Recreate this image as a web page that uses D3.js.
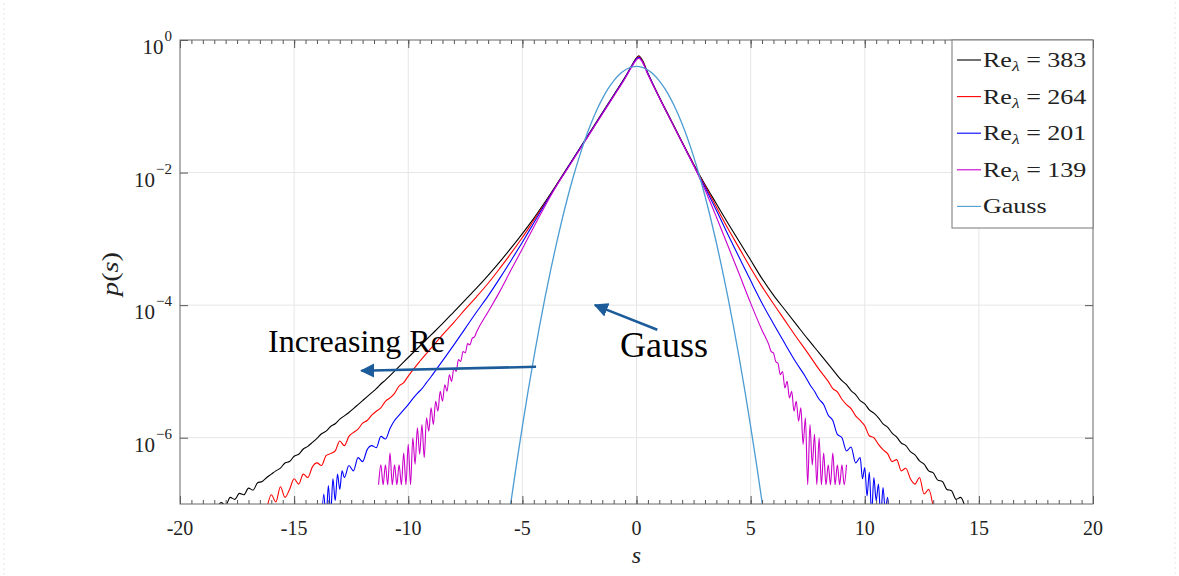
<!DOCTYPE html>
<html><head><meta charset="utf-8">
<script src="https://cdn.jsdelivr.net/npm/d3@7"></script>
<style>body{margin:0;background:#fff}svg{display:block}</style>
</head><body>
<svg id="chart" width="1179" height="576"></svg>
<script>
// ---------- data (s, log10 p(s)) ----------
const xTicks = [-20,-15,-10,-5,0,5,10,15,20];
const yTickExps = [0,-2,-4,-6];
const seriesNames = ["383","264","201","139","Gauss"];
const seriesColors = ["#000000","#ff0000","#0000ff","#cc00cc","#4b9cd3"];

const re383 = [[-18.4,-7.08],[-18.2,-6.98],[-18.0,-7.02],[-17.8,-6.9],[-17.6,-6.93],[-17.4,-6.84],[-17.2,-6.86],[-17.0,-6.76],[-16.8,-6.79],[-16.6,-6.68],[-16.4,-6.66],[-16.2,-6.6],[-16.0,-6.55],[-15.8,-6.5],[-15.6,-6.46],[-15.4,-6.38],[-15.2,-6.36],[-15.0,-6.28],[-14.8,-6.25],[-14.6,-6.17],[-14.4,-6.13],[-14.2,-6.07],[-14.0,-6.01],[-13.8,-5.94],[-13.6,-5.9],[-13.4,-5.83],[-13.2,-5.79],[-13.0,-5.72],[-12.8,-5.67],[-12.6,-5.62],[-12.4,-5.56],[-12.2,-5.5],[-12.0,-5.44],[-11.8,-5.38],[-11.6,-5.32],[-11.4,-5.26],[-11.2,-5.19],[-11.0,-5.13],[-10.5,-4.96],[-10.0,-4.79],[-9.5,-4.62],[-9.0,-4.45],[-8.5,-4.28],[-8.0,-4.1],[-7.5,-3.92],[-7.0,-3.74],[-6.5,-3.55],[-6.0,-3.35],[-5.5,-3.14],[-5.0,-2.92],[-4.5,-2.69],[-4.0,-2.44],[-3.5,-2.18],[-3.0,-1.91],[-2.5,-1.64],[-2.0,-1.37],[-1.5,-1.1],[-1.0,-0.83],[-0.5,-0.56],[-0.25,-0.41],[0,-0.27],[0.1,-0.24],[0.25,-0.3],[0.5,-0.5],[1.0,-0.86],[1.5,-1.2],[2.0,-1.54],[2.5,-1.87],[3.0,-2.18],[3.5,-2.47],[4.0,-2.76],[4.5,-3.04],[5.0,-3.32],[5.5,-3.6],[6.0,-3.85],[6.5,-4.07],[7.0,-4.29],[7.5,-4.51],[8.0,-4.72],[8.5,-4.93],[9.0,-5.14],[9.2,-5.2],[9.4,-5.29],[9.6,-5.35],[9.8,-5.44],[10.0,-5.49],[10.2,-5.58],[10.4,-5.63],[10.6,-5.7],[10.8,-5.79],[11.0,-5.84],[11.2,-5.93],[11.4,-5.99],[11.6,-6.08],[11.8,-6.12],[12.0,-6.21],[12.2,-6.26],[12.4,-6.35],[12.6,-6.4],[12.8,-6.5],[13.0,-6.53],[13.2,-6.64],[13.4,-6.66],[13.6,-6.78],[13.8,-6.8],[14.0,-6.93],[14.2,-6.9],[14.4,-7.05]];

const re264 = [[-16.2,-7.08],[-16.0,-6.86],[-15.8,-6.97],[-15.6,-6.74],[-15.4,-6.9],[-15.2,-6.78],[-15.0,-6.62],[-14.8,-6.7],[-14.6,-6.55],[-14.4,-6.6],[-14.2,-6.44],[-14.0,-6.38],[-13.8,-6.42],[-13.6,-6.27],[-13.4,-6.24],[-13.2,-6.2],[-13.0,-6.05],[-12.8,-6.12],[-12.6,-5.98],[-12.4,-5.92],[-12.2,-5.87],[-12.0,-5.78],[-11.8,-5.74],[-11.6,-5.66],[-11.4,-5.6],[-11.2,-5.55],[-11.0,-5.45],[-10.8,-5.4],[-10.6,-5.33],[-10.4,-5.22],[-10.2,-5.17],[-10.0,-5.07],[-9.5,-4.85],[-9.0,-4.65],[-8.5,-4.45],[-8.0,-4.26],[-7.5,-4.06],[-7.0,-3.87],[-6.5,-3.67],[-6.0,-3.45],[-5.5,-3.22],[-5.0,-2.98],[-4.5,-2.72],[-4.0,-2.46],[-3.5,-2.19],[-3.0,-1.92],[-2.5,-1.65],[-2.0,-1.38],[-1.5,-1.11],[-1.0,-0.84],[-0.5,-0.57],[-0.25,-0.42],[0,-0.28],[0.1,-0.25],[0.25,-0.31],[0.5,-0.51],[1.0,-0.87],[1.5,-1.21],[2.0,-1.55],[2.5,-1.88],[3.0,-2.2],[3.5,-2.52],[4.0,-2.84],[4.5,-3.14],[5.0,-3.44],[5.5,-3.72],[6.0,-3.98],[6.5,-4.23],[7.0,-4.48],[7.5,-4.72],[8.0,-4.97],[8.2,-5.06],[8.4,-5.15],[8.6,-5.26],[8.8,-5.31],[9.0,-5.42],[9.2,-5.5],[9.4,-5.56],[9.6,-5.67],[9.8,-5.74],[10.0,-5.82],[10.2,-5.97],[10.4,-6.0],[10.6,-6.1],[10.8,-6.18],[11.0,-6.24],[11.2,-6.36],[11.4,-6.33],[11.6,-6.5],[11.8,-6.46],[12.0,-6.62],[12.2,-6.7],[12.4,-6.6],[12.6,-6.85],[12.8,-6.78],[13.0,-7.05]];

const re201 = [[-13.8,-7.3],[-13.7,-6.85],[-13.6,-7.25],[-13.5,-6.72],[-13.4,-7.15],[-13.3,-6.62],[-13.2,-6.95],[-13.1,-6.55],[-13.0,-6.78],[-12.9,-6.5],[-12.8,-6.6],[-12.6,-6.42],[-12.4,-6.5],[-12.2,-6.3],[-12.0,-6.36],[-11.8,-6.18],[-11.6,-6.12],[-11.4,-6.15],[-11.2,-5.98],[-11.0,-6.02],[-10.8,-5.86],[-10.6,-5.74],[-10.4,-5.66],[-10.2,-5.58],[-10.0,-5.5],[-9.8,-5.41],[-9.6,-5.33],[-9.4,-5.26],[-9.2,-5.17],[-9.0,-5.08],[-8.5,-4.84],[-8.0,-4.6],[-7.5,-4.35],[-7.0,-4.1],[-6.5,-3.86],[-6.0,-3.6],[-5.5,-3.33],[-5.0,-3.05],[-4.5,-2.76],[-4.0,-2.47],[-3.5,-2.19],[-3.0,-1.92],[-2.5,-1.65],[-2.0,-1.38],[-1.5,-1.11],[-1.0,-0.84],[-0.5,-0.57],[-0.25,-0.42],[0,-0.285],[0.1,-0.26],[0.25,-0.32],[0.5,-0.51],[1.0,-0.87],[1.5,-1.21],[2.0,-1.55],[2.5,-1.89],[3.0,-2.22],[3.5,-2.57],[4.0,-2.93],[4.5,-3.28],[5.0,-3.63],[5.5,-3.97],[6.0,-4.28],[6.5,-4.58],[7.0,-4.87],[7.4,-5.08],[7.6,-5.2],[7.8,-5.3],[8.0,-5.42],[8.2,-5.5],[8.4,-5.66],[8.6,-5.74],[8.8,-5.95],[9.0,-6.0],[9.2,-6.2],[9.4,-6.14],[9.6,-6.38],[9.8,-6.3],[9.9,-6.62],[10.0,-6.45],[10.1,-6.88],[10.2,-6.52],[10.3,-7.15],[10.4,-6.6],[10.5,-6.95],[10.6,-6.7],[10.7,-7.2],[10.8,-6.75],[10.9,-7.1],[11.0,-6.9],[11.1,-7.3]];

const re139 = [[-11.3,-6.71],[-11.2,-6.41],[-11.1,-6.71],[-11.0,-6.41],[-10.9,-6.71],[-10.8,-6.23],[-10.7,-6.71],[-10.6,-6.41],[-10.5,-6.71],[-10.4,-6.41],[-10.3,-6.71],[-10.2,-6.23],[-10.1,-6.71],[-10.0,-6.1],[-9.9,-6.71],[-9.8,-6.0],[-9.7,-6.4],[-9.6,-5.85],[-9.5,-6.25],[-9.4,-5.8],[-9.3,-6.3],[-9.2,-5.7],[-9.1,-5.9],[-9.0,-5.55],[-8.9,-5.8],[-8.8,-5.45],[-8.7,-5.6],[-8.6,-5.3],[-8.5,-5.45],[-8.4,-5.2],[-8.3,-5.3],[-8.2,-5.05],[-8.1,-5.15],[-8.0,-4.95],[-7.9,-5.0],[-7.8,-4.82],[-7.7,-4.85],[-7.6,-4.7],[-7.5,-4.72],[-7.4,-4.58],[-7.3,-4.6],[-7.2,-4.5],[-7.1,-4.48],[-7.0,-4.4],[-6.5,-4.1],[-6.0,-3.8],[-5.5,-3.47],[-5.0,-3.15],[-4.5,-2.82],[-4.0,-2.5],[-3.5,-2.2],[-3.0,-1.93],[-2.5,-1.66],[-2.0,-1.39],[-1.5,-1.12],[-1.0,-0.85],[-0.5,-0.58],[-0.25,-0.43],[0,-0.3],[0.1,-0.275],[0.25,-0.33],[0.5,-0.52],[1.0,-0.87],[1.5,-1.21],[2.0,-1.55],[2.5,-1.89],[3.0,-2.26],[3.5,-2.67],[4.0,-3.1],[4.5,-3.53],[5.0,-3.97],[5.5,-4.38],[5.8,-4.6],[5.9,-4.7],[6.0,-4.72],[6.1,-4.85],[6.2,-4.88],[6.3,-5.05],[6.4,-5.0],[6.5,-5.25],[6.6,-5.15],[6.7,-5.4],[6.8,-5.3],[6.9,-5.6],[7.0,-5.45],[7.1,-5.75],[7.2,-5.55],[7.3,-6.1],[7.4,-5.7],[7.5,-6.71],[7.6,-5.8],[7.7,-6.41],[7.8,-5.95],[7.9,-6.71],[8.0,-6.0],[8.1,-6.71],[8.2,-6.23],[8.3,-6.71],[8.4,-6.41],[8.5,-6.71],[8.6,-6.23],[8.7,-6.71],[8.8,-6.41],[8.9,-6.71],[9.0,-6.41],[9.1,-6.71],[9.2,-6.41]];

const gauss = [[-5.75,-7.578],[-5.5,-6.968],[-5.25,-6.384],[-5.0,-5.828],[-4.75,-5.298],[-4.5,-4.796],[-4.25,-4.321],[-4.0,-3.873],[-3.75,-3.453],[-3.5,-3.059],[-3.25,-2.693],[-3.0,-2.353],[-2.75,-2.041],[-2.5,-1.756],[-2.25,-1.498],[-2.0,-1.268],[-1.75,-1.064],[-1.5,-0.888],[-1.25,-0.738],[-1.0,-0.616],[-0.75,-0.521],[-0.5,-0.453],[-0.25,-0.413],[0,-0.399],[0.25,-0.413],[0.5,-0.453],[0.75,-0.521],[1.0,-0.616],[1.25,-0.738],[1.5,-0.888],[1.75,-1.064],[2.0,-1.268],[2.25,-1.498],[2.5,-1.756],[2.75,-2.041],[3.0,-2.353],[3.25,-2.693],[3.5,-3.059],[3.75,-3.453],[4.0,-3.873],[4.25,-4.321],[4.5,-4.796],[4.75,-5.298],[5.0,-5.828],[5.25,-6.384],[5.5,-6.968],[5.75,-7.578]];

// annotations (data coordinates: s, log10 p)
const annoIncText = [-16.14,-4.70];
const annoIncArrow = [[-4.4,-4.93],[-12.05,-4.99]];
const annoGaussText = [-0.72,-4.78];
const annoGaussArrow = [[0.91,-4.37],[-1.82,-4.0]];

// ---------- drawing ----------
const FONT = "'Liberation Serif','Times New Roman',serif";
const svg = d3.select("#chart");
const P = {l:180, r:1093, t:40, b:504};
const x = d3.scaleLinear().domain([-20,20]).range([P.l,P.r]);
const y = d3.scaleLog().domain([1e-7,1]).range([P.b,P.t]);
const py = v => y(Math.pow(10,v));

svg.append("rect").attr("width",1179).attr("height",576).attr("fill","#fff");
// faint slide border
svg.append("rect").attr("x",4).attr("y",-2).attr("width",1171).attr("height",580)
  .attr("fill","none").attr("stroke","#e4e4e4").attr("stroke-dasharray","2,3");

svg.append("rect").attr("x",P.l).attr("y",P.t).attr("width",P.r-P.l).attr("height",P.b-P.t).attr("fill","#fff");

// grid
const grid = svg.append("g").attr("stroke","#e6e6e6").attr("stroke-width",1);
grid.selectAll("line.v").data(xTicks.slice(1,-1)).join("line").attr("class","v")
  .attr("x1",d=>x(d)).attr("x2",d=>x(d)).attr("y1",P.t).attr("y2",P.b);
grid.selectAll("line.h").data(yTickExps.slice(1)).join("line").attr("class","h")
  .attr("x1",P.l).attr("x2",P.r).attr("y1",d=>y(Math.pow(10,d))).attr("y2",d=>y(Math.pow(10,d)));

// curves
svg.append("defs").append("clipPath").attr("id","clip").append("rect")
  .attr("x",P.l).attr("y",P.t).attr("width",P.r-P.l).attr("height",P.b-P.t);
const line = d3.line().x(d=>x(d[0])).y(d=>py(d[1])).curve(d3.curveMonotoneX);
const curves = [re383,re264,re201,re139,gauss];
const cg = svg.append("g").attr("clip-path","url(#clip)");
curves.forEach((c,i)=>{
  cg.append("path").datum(c).attr("d",line).attr("fill","none")
    .attr("stroke",seriesColors[i]).attr("stroke-width",i===4?1.3:1.1).attr("stroke-linejoin","round");
});

// axes ticks (inward)
const xMinor = d3.range(-20,20.001,0.5);
const tickStyle = g => { g.select(".domain").remove(); g.selectAll("line").attr("stroke","#555"); };
svg.append("g").attr("transform",`translate(0,${P.b})`).call(d3.axisBottom(x).tickValues(xMinor).tickSize(-4).tickFormat("")).call(tickStyle);
svg.append("g").attr("transform",`translate(0,${P.b})`).call(d3.axisBottom(x).tickValues(xTicks).tickSize(-8).tickFormat("")).call(tickStyle);
svg.append("g").attr("transform",`translate(0,${P.t})`).call(d3.axisTop(x).tickValues(xMinor).tickSize(-4).tickFormat("")).call(tickStyle);
svg.append("g").attr("transform",`translate(0,${P.t})`).call(d3.axisTop(x).tickValues(xTicks).tickSize(-8).tickFormat("")).call(tickStyle);
const yTickVals = yTickExps.map(e=>Math.pow(10,e));
svg.append("g").attr("transform",`translate(${P.l},0)`).call(d3.axisLeft(y).tickValues(yTickVals).tickSize(-8).tickFormat("")).call(tickStyle);
svg.append("g").attr("transform",`translate(${P.r},0)`).call(d3.axisRight(y).tickValues(yTickVals).tickSize(-8).tickFormat("")).call(tickStyle);

// frame
svg.append("rect").attr("x",P.l).attr("y",P.t).attr("width",P.r-P.l).attr("height",P.b-P.t)
  .attr("fill","none").attr("stroke","#666").attr("stroke-width",1);

// tick labels
svg.append("g").selectAll("text").data(xTicks).join("text")
  .attr("x",d=>x(d)).attr("y",P.b+31).attr("text-anchor","middle")
  .attr("font-family",FONT).attr("font-size",20).attr("fill","#222").text(d=>String(d));
const yl = svg.append("g").selectAll("text").data(yTickExps).join("text")
  .attr("x",P.l-8).attr("y",d=>y(Math.pow(10,d))+14).attr("text-anchor","end")
  .attr("font-family",FONT).attr("font-size",21).attr("fill","#222");
yl.append("tspan").text("10");
yl.append("tspan").attr("dy",-13).attr("dx",1).attr("font-size",15).text(d=>String(d).replace("-","\u2212"));

// axis labels
svg.append("text").attr("x",(P.l+P.r)/2).attr("y",P.b+59).attr("text-anchor","middle")
  .attr("font-family",FONT).attr("font-size",24).attr("font-style","italic").attr("fill","#222").text("s");
const ylab = svg.append("text").attr("transform",`translate(118,${(P.t+P.b)/2+2}) rotate(-90)`)
  .attr("text-anchor","middle").attr("font-family",FONT).attr("font-size",23).attr("fill","#222")
  .attr("textLength",44).attr("lengthAdjust","spacingAndGlyphs");
ylab.append("tspan").attr("font-style","italic").text("p");
ylab.append("tspan").text("(");
ylab.append("tspan").attr("font-style","italic").text("s");
ylab.append("tspan").text(")");

// legend
const L = {x:952, y:40, w:141, h:188};
const lg = svg.append("g");
lg.append("rect").attr("x",L.x).attr("y",L.y).attr("width",L.w).attr("height",L.h)
  .attr("fill","#fff").attr("stroke","#777");
seriesNames.forEach((n,i)=>{
  const cy = L.y + 20 + i*36.6;
  lg.append("line").attr("x1",L.x+5).attr("x2",L.x+29).attr("y1",cy).attr("y2",cy)
    .attr("stroke",seriesColors[i]).attr("stroke-width",1.1);
  const t = lg.append("text").attr("transform",`translate(${L.x+31},${cy+7}) scale(1.27,1)`)
    .attr("font-family",FONT).attr("font-size",20.5).attr("fill","#222");
  if(i<4){
    t.append("tspan").text("Re");
    t.append("tspan").attr("dy",4).attr("font-size",14).attr("font-style","italic").text("λ");
    t.append("tspan").attr("dy",-4).text(" = "+n);
  } else {
    t.text(n);
  }
});

// annotations
const ac = "#1d5c9b";
const defs = svg.select("defs");
defs.append("marker").attr("id","ah").attr("viewBox","0 0 10 10").attr("refX",9).attr("refY",5)
  .attr("markerWidth",5.5).attr("markerHeight",5.5).attr("orient","auto-start-reverse")
  .append("path").attr("d","M0,0 L10,5 L0,10 z").attr("fill",ac);
svg.append("text").attr("x",x(annoIncText[0])).attr("y",py(annoIncText[1]))
  .attr("font-family",FONT).attr("font-size",32).attr("fill","#000").text("Increasing Re");
svg.append("text").attr("x",x(annoGaussText[0])).attr("y",py(annoGaussText[1]))
  .attr("font-family",FONT).attr("font-size",36).attr("fill","#000").text("Gauss");
[annoIncArrow, annoGaussArrow].forEach(a=>{
  svg.append("line").attr("x1",x(a[0][0])).attr("y1",py(a[0][1]))
    .attr("x2",x(a[1][0])).attr("y2",py(a[1][1]))
    .attr("stroke",ac).attr("stroke-width",2.6).attr("marker-end","url(#ah)");
});
</script>
</body></html>
